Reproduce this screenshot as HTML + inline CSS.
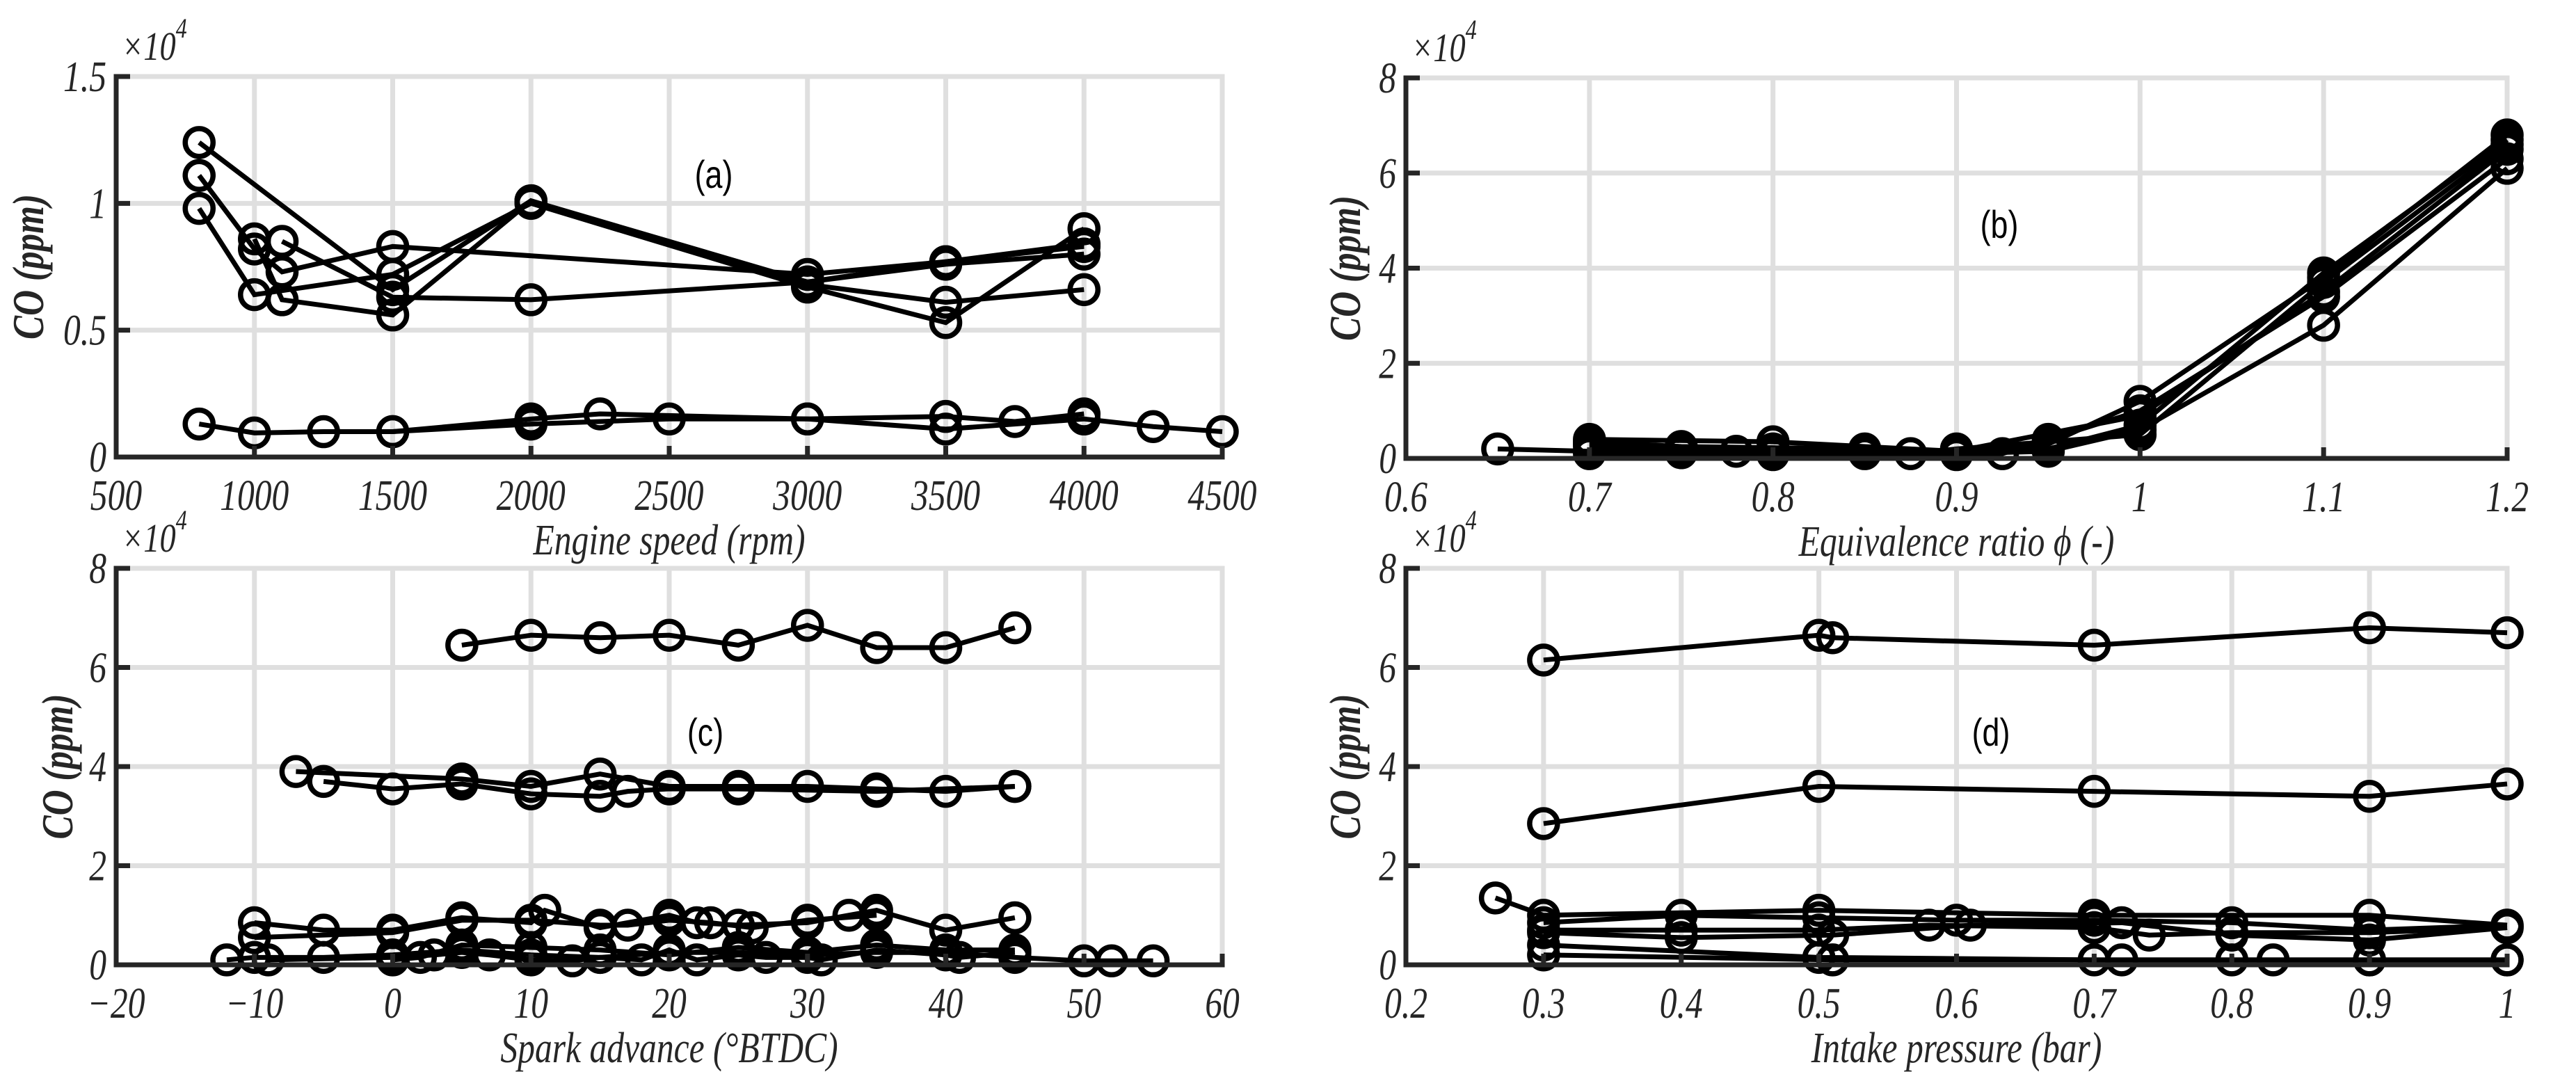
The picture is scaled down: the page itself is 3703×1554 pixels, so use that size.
<!DOCTYPE html>
<html><head><meta charset="utf-8"><style>
html,body{margin:0;padding:0;background:#fff;}
svg{display:block;}
</style></head><body>
<svg id="fig" width="3703" height="1554" viewBox="0 0 3703 1554" xmlns="http://www.w3.org/2000/svg"></svg>
<script>
// ---------- Panel (a): Engine speed ----------
const aXTicks = [500,1000,1500,2000,2500,3000,3500,4000,4500];
const aYTicks = [0,0.5,1,1.5];
const aYTickLabels = ["0","0.5","1","1.5"];
const aSeriesX = [
  [800,1500,2000,3000,3500,4000],
  [800,1000,1100,1500,3000,3500,4000],
  [800,1000,1500,2000,3000,3500,4000],
  [1000,1100,1500,2000,3000,3500,4000],
  [1100,1500,2000,3000,3500,4000],
  [800,1000,1250,1500,2000,2500,3000,3500,4000,4250,4500],
  [1500,2000,2250,3000,3500,3750,4000]
];
const aSeriesY = [
  [12400,6600,10100,6800,6100,6600],
  [11100,8200,7300,8300,7200,7700,8400],
  [9800,6400,7200,10000,6700,5300,9000],
  [8600,6200,5600,10100,6900,7600,8000],
  [8500,6300,6200,6900,7700,8300],
  [1300,950,1000,1000,1300,1500,1500,1100,1500,1200,1000],
  [1000,1500,1700,1500,1600,1400,1700]
];
// ---------- Panel (b): Equivalence ratio ----------
const bXTicks = [0.6,0.7,0.8,0.9,1,1.1,1.2];
const bXTickLabels = ["0.6","0.7","0.8","0.9","1","1.1","1.2"];
const bYTicks = [0,2,4,6,8];
const bSeriesX = [
  [0.65,0.7,0.75,0.8,0.85,0.9,0.95,1.0,1.1,1.2],
  [0.7,0.8,0.9,1.0,1.1,1.2],
  [0.7,0.75,0.8,0.85,0.9,0.95,1.0,1.1,1.2],
  [0.7,0.78,0.875,0.9,1.0,1.1,1.2],
  [0.7,0.8,0.9,0.925,0.95,1.0,1.1,1.2],
  [0.7,0.75,0.85,0.9,0.95,1.0,1.1,1.2]
];
const bSeriesY = [
  [2000,1500,1200,1000,1000,1000,3000,12000,38000,68000],
  [4000,3500,1500,9000,35000,65000],
  [2500,2000,2000,1500,1000,1500,6000,28000,61000],
  [3000,1500,1000,2000,5000,37000,66000],
  [1000,800,800,1000,4000,10000,34000,63000],
  [3500,2500,2000,1500,2000,7000,39000,67000]
];
// ---------- Panel (c): Spark advance ----------
const cXTicks = [-20,-10,0,10,20,30,40,50,60];
const cXTickLabels = ["\u221220","\u221210","0","10","20","30","40","50","60"];
const cYTicks = [0,2,4,6,8];
const cSeriesX = [
  [5,10,15,20,25,30,35,40,45],
  [-7,5,10,15,20,25,30,35,40,45],
  [-5,0,5,10,15,17,20,25,35,45],
  [-10,-5,0,5,10,11,15,20,22,25,30,33,35,40,45],
  [-10,0,5,10,15,17,20,23,26,30,35],
  [-12,-10,-5,0,5,10,15,20,25,30,35,40,45,50,52,55],
  [-9,0,3,5,7,10,13,15,18,20,22,25,27,30,31,35,40,41,45],
  [0,2,5,10,15,20,25,30,35,40,45]
];
const cSeriesY = [
  [64500,66500,66000,66500,64500,68500,64000,64000,68000],
  [39000,37500,36000,38500,36000,36000,36000,35500,35000,36000],
  [37000,35500,36500,34500,34000,35000,35500,35500,35000,36000],
  [8500,7000,7000,9500,8500,11000,7500,10000,8500,8000,8500,10000,11000,7000,9500],
  [5500,6500,9000,9000,8000,8000,9000,8500,7500,9000,10000],
  [1000,1500,1500,2000,3000,2000,1500,2500,2500,2000,2500,2500,1500,800,800,800],
  [1000,1500,2000,2500,2000,1000,800,1500,1000,3000,1000,2000,1500,1500,1000,3000,2000,1500,2500],
  [1000,1500,4000,3500,3000,2000,3500,2500,4000,3000,3000]
];
// ---------- Panel (d): Intake pressure ----------
const dXTicks = [0.2,0.3,0.4,0.5,0.6,0.7,0.8,0.9,1];
const dXTickLabels = ["0.2","0.3","0.4","0.5","0.6","0.7","0.8","0.9","1"];
const dYTicks = [0,2,4,6,8];
const dSeriesX = [
  [0.3,0.5,0.51,0.7,0.9,1.0],
  [0.3,0.5,0.7,0.9,1.0],
  [0.265,0.3,0.5,0.7,0.9,1.0],
  [0.3,0.4,0.5,0.6,0.7,0.8,0.9,1.0],
  [0.3,0.4,0.5,0.58,0.7,0.74,0.8,0.9,1.0],
  [0.3,0.4,0.51,0.61,0.72,0.8,0.9,1.0],
  [0.3,0.5,0.7,0.8,0.9,1.0],
  [0.3,0.51,0.72,0.83,0.9,1.0]
];
const dSeriesY = [
  [61500,66500,66000,64500,68000,67000],
  [28500,36000,35000,34000,36500],
  [13500,10000,11000,10000,10000,8000],
  [8500,10000,9500,9000,9000,8500,7000,8000],
  [7000,7000,7000,8000,7500,6000,6500,6500,7500],
  [6500,5500,6000,8000,8500,6000,5000,7500],
  [4000,1500,1000,1000,1000,1000],
  [2000,1000,1000,1000,1000,1000]
];

const NS = "http://www.w3.org/2000/svg";
const svg = document.getElementById("fig");
function mk(tag, attrs, parent) {
  const e = document.createElementNS(NS, tag);
  for (const k in attrs) e.setAttribute(k, attrs[k]);
  (parent || svg).appendChild(e);
  return e;
}
const SERIF = '"Liberation Serif", "DejaVu Serif", serif';
function txt(parent, x, y, str, anchor, size, extra, rot) {
  const a = {x: 0, y: 0, "text-anchor": anchor, "font-family": SERIF, "font-style": "italic", "font-size": size, fill: "#262626",
    transform: `translate(${x},${y})` + (rot ? " rotate(-90)" : "") + " scale(0.8,1)"};
  for (const k in (extra || {})) a[k] = extra[k];
  const t = mk("text", a, parent);
  t.textContent = str;
  return t;
}

function panel(cfg) {
  const g = mk("g", {});
  
  
  const xS = v => cfg.x0 + (v - cfg.xmin) / (cfg.xmax - cfg.xmin) * (cfg.x1 - cfg.x0);
  const yS = v => cfg.y0 - (v - cfg.ymin) / (cfg.ymax - cfg.ymin) * (cfg.y0 - cfg.y1);
  cfg.xticks.forEach(t => {
    const l = mk("line", {x1: xS(t), x2: xS(t), y1: cfg.y0, y2: cfg.y1, stroke: "#dfdfdf", "stroke-width": 7}, g);
    
    
  });
  cfg.yticks.forEach(t => {
    const l = mk("line", {x1: cfg.x0, x2: cfg.x1 + 3.5, y1: yS(t), y2: yS(t), stroke: "#dfdfdf", "stroke-width": 7}, g);
    
    
  });
  cfg.sx.forEach((xs, i) => {
    const ys = cfg.sy[i];
    const sg = mk("g", {}, g);
    
    
    const pts = xs.map((x, j) => xS(x) + "," + yS(ys[j] / 10000)).join(" ");
    const pl = mk("polyline", {points: pts, fill: "none", stroke: "#000", "stroke-width": 7, "stroke-linejoin": "miter"}, sg);
    
    
    xs.forEach((x, j) => {
      const c = mk("circle", {cx: xS(x), cy: yS(ys[j] / 10000), r: 20, fill: "none", stroke: "#000", "stroke-width": 7.5}, sg);
      
      
    });
  });
  const ax = mk("path", {d: `M${cfg.x0},${cfg.y1 - 3.5} L${cfg.x0},${cfg.y0} L${cfg.x1 + 3.5},${cfg.y0}`, fill: "none", stroke: "#262626", "stroke-width": 7}, g);
  
  
  cfg.xticks.forEach((t, i) => {
    const tk = mk("line", {x1: xS(t), x2: xS(t), y1: cfg.y0, y2: cfg.y0 - 16, stroke: "#262626", "stroke-width": 7}, g);
    
    
    const tx = txt(g, xS(t), cfg.y0 + 76, cfg.xlabels[i], "middle", 62);
    
    
  });
  cfg.yticks.forEach((t, i) => {
    const tk = mk("line", {x1: cfg.x0, x2: cfg.x0 + 20, y1: yS(t), y2: yS(t), stroke: "#262626", "stroke-width": 7}, g);
    
    
    const tx = txt(g, cfg.x0 - 14, yS(t) + 21, cfg.ylabels[i], "end", 62);
    
    
  });
  const ex = txt(g, cfg.x0 + 8, cfg.y1 - 24, "\u00d710", "start", 58);
  
  
  const ts = mk("tspan", {dy: -32, "font-size": 40}, ex);
  ts.textContent = "4";
  const xl = txt(g, (cfg.x0 + cfg.x1) / 2, cfg.y0 + 140, cfg.xtitle, "middle", 62);
  
  
  const yc = (cfg.y0 + cfg.y1) / 2;
  const yl = txt(g, cfg.ytx + 20, yc, "CO (ppm)", "middle", 64, {"font-weight": "bold"}, true);
  
  
  const pl = mk("text", {x: 0, y: 0, "text-anchor": "middle", "font-family": '"Liberation Sans", sans-serif', "font-size": 56, fill: "#000",
    transform: `translate(${cfg.lx},${cfg.ly + 20}) scale(0.8,1)`}, g);
  pl.textContent = "(" + cfg.id + ")";
  
  
}

panel({id: "a", x0: 167, x1: 1757, y0: 657, y1: 110, xmin: 500, xmax: 4500, ymin: 0, ymax: 1.5,
  xticks: aXTicks, xlabels: aXTicks.map(String), yticks: aYTicks, ylabels: aYTickLabels,
  sx: aSeriesX, sy: aSeriesY, xtitle: "Engine speed (rpm)", ytx: 42, lx: 1026, ly: 250});
panel({id: "b", x0: 2021, x1: 3604, y0: 659, y1: 112, xmin: 0.6, xmax: 1.2, ymin: 0, ymax: 8,
  xticks: bXTicks, xlabels: bXTickLabels, yticks: bYTicks, ylabels: bYTicks.map(String),
  sx: bSeriesX, sy: bSeriesY, xtitle: "Equivalence ratio   \u03d5 (-)", ytx: 1935, lx: 2874, ly: 322});
panel({id: "c", x0: 167, x1: 1757, y0: 1387, y1: 817, xmin: -20, xmax: 60, ymin: 0, ymax: 8,
  xticks: cXTicks, xlabels: cXTickLabels, yticks: cYTicks, ylabels: cYTicks.map(String),
  sx: cSeriesX, sy: cSeriesY, xtitle: "Spark advance (\u00b0BTDC)", ytx: 84, lx: 1014, ly: 1052});
panel({id: "d", x0: 2021, x1: 3604, y0: 1387, y1: 817, xmin: 0.2, xmax: 1.0, ymin: 0, ymax: 8,
  xticks: dXTicks, xlabels: dXTickLabels, yticks: dYTicks, ylabels: dYTicks.map(String),
  sx: dSeriesX, sy: dSeriesY, xtitle: "Intake pressure (bar)", ytx: 1935, lx: 2862, ly: 1052});
</script>
</body></html>
